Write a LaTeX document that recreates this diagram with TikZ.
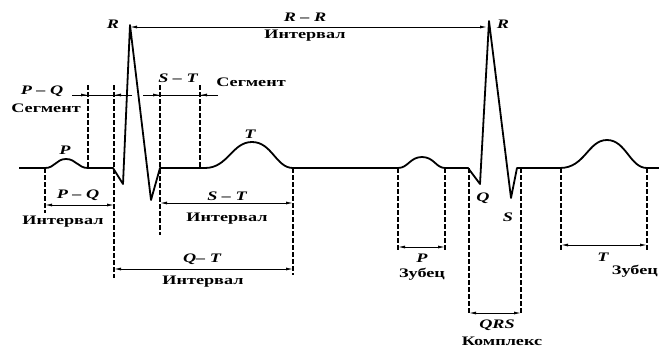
\documentclass[tikz,border=0pt]{standalone}
\usepackage{fontspec}
\setmainfont{Liberation Serif}[FakeStretch=1.4]
\usetikzlibrary{arrows.meta}
\begin{document}
\begin{tikzpicture}[x=1pt,y=-1pt,>={Latex[length=7pt,width=3pt]},
  wave/.style={line width=1.8pt,line join=round},
  guide/.style={line width=1.3pt,dash pattern=on 4.5pt off 2.5pt},
  dim/.style={<->,line width=0.9pt},
  lbl/.style={font=\fontsize{13}{14}\selectfont\bfseries,inner sep=1pt},
  ilbl/.style={font=\fontsize{13}{14}\selectfont\bfseries\itshape,inner sep=1pt}]
  \useasboundingbox (0,0) rectangle (659,349);
  % the trace
  \draw[wave] (19,168) -- (45,168) .. controls (55,168) and (56,159) .. (66,159) .. controls (76,159) and (78,168) .. (88,168)
    -- (113,168) -- (123,184) -- (130,25) -- (151,200) -- (160,168) -- (205,168)
    .. controls (228,168) and (232,142) .. (252,142) .. controls (272,142) and (276,168) .. (293,168)
    -- (398,168) .. controls (408,168) and (410,157) .. (422,157) .. controls (434,157) and (436,168) .. (445,168)
    -- (468,168) -- (480,184) -- (489,21) -- (511,198) -- (517,168) -- (560,168)
    .. controls (585,168) and (588,140) .. (607,140) .. controls (626,140) and (630,168) .. (647,168) -- (659,168);
  % dashed guides
  \draw[guide] (45,168) -- (45,213);
  \draw[guide] (88,85) -- (88,168);
  \draw[guide] (114,85) -- (114,278);
  \draw[guide] (160,85) -- (160,235);
  \draw[guide] (200,85) -- (200,168);
  \draw[guide] (293,168) -- (293,275);
  \draw[guide] (398,168) -- (398,250);
  \draw[guide] (445,168) -- (445,250);
  \draw[guide] (469,168) -- (469,315);
  \draw[guide] (521,168) -- (521,315);
  \draw[guide] (561,168) -- (561,250);
  \draw[guide] (647,168) -- (647,250);
  % segments
  \draw[line width=0.9pt] (72,95) -- (132,95);
  \draw[->,line width=0.9pt] (72,95) -- (88,95);
  \draw[->,line width=0.9pt] (132,95) -- (114,95);
  \draw[line width=0.9pt] (143,95) -- (218,95);
  \draw[->,line width=0.9pt] (143,95) -- (160,95);
  \draw[->,line width=0.9pt] (218,95) -- (200,95);
  % intervals
  \draw[dim] (130,27) -- (487,27);
  \draw[dim] (45,205) -- (114,205);
  \draw[dim] (160,203) -- (293,203);
  \draw[dim] (114,269) -- (293,269);
  \draw[dim] (398,247) -- (445,247);
  \draw[dim] (469,313) -- (521,313);
  \draw[dim] (561,245) -- (647,245);
  % labels
  \node[ilbl] (rtop) at (113,24) {R};
  \node[ilbl] (rr) at (305,17) {R – R};
  \node[lbl] (rrint) at (305,36) {Интервал};
  \node[ilbl] (r2) at (503,24) {R};
  \node[ilbl] (pqs) at (42,91) {P – Q};
  \node[lbl] (pqseg) at (46,108) {Сегмент};
  \node[ilbl] (sts) at (178,78) {S – T};
  \node[lbl] (stseg) at (251,82) {Сегмент};
  \node[ilbl] (pw) at (65,150) {P};
  \node[ilbl] (tw) at (250,134) {T};
  \node[ilbl] (pqi) at (78,195) {P – Q};
  \node[lbl] (pqint) at (63,222) {Интервал};
  \node[ilbl] (sti) at (227,196) {S – T};
  \node[lbl] (stint) at (227,219) {Интервал};
  \node[ilbl] (qti) at (202,259) {Q– T};
  \node[lbl] (qtint) at (203,282) {Интервал};
  \node[ilbl] (qw) at (483,198) {Q};
  \node[ilbl] (sw) at (508,217) {S};
  \node[ilbl] (pz) at (422,258) {P};
  \node[lbl] (pzub) at (422,274) {Зубец};
  \node[ilbl] (qrs) at (497,325) {QRS};
  \node[lbl] (kompl) at (502,341) {Комплекс};
  \node[ilbl] (tz) at (603,257) {T};
  \node[lbl,anchor=east] (tzub) at (659,271) {Зубец};
\end{tikzpicture}
\end{document}
